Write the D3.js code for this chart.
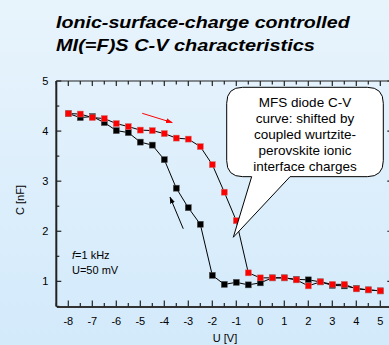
<!DOCTYPE html>
<html><head><meta charset="utf-8">
<script src="https://cdn.jsdelivr.net/npm/d3@7"></script>
<style>html,body{margin:0;padding:0;overflow:hidden}svg{display:block}</style>
</head><body>
<script>
const voltages = [-8,-7.5,-7,-6.5,-6,-5.5,-5,-4.5,-4,-3.5,-3,-2.5,-2,-1.5,-1,-0.5,0,0.5,1,1.5,2,2.5,3,3.5,4,4.5,5];
const blackC = [4.35,4.27,4.29,4.17,4.01,3.97,3.78,3.72,3.43,2.86,2.47,2.14,1.12,0.94,0.98,0.93,0.97,1.07,1.07,1.04,1.03,0.99,0.92,0.91,0.86,0.83,0.81];
const redC   = [4.35,4.34,4.27,4.25,4.15,4.09,4.02,4.01,3.95,3.86,3.84,3.69,3.33,2.78,2.21,1.17,1.07,1.07,1.07,1.03,0.91,0.99,0.94,0.94,0.85,0.83,0.81];
const xTicks = [-8,-7,-6,-5,-4,-3,-2,-1,0,1,2,3,4,5];
const yTicks = [1,2,3,4,5];
const titleLines = ["Ionic-surface-charge controlled","MI(=F)S C-V characteristics"];
const calloutLines = ["MFS diode C-V","curve: shifted by","coupled wurtzite-","perovskite ionic","interface charges"];

const W=389,H=345;
const svg=d3.select("body").append("svg").attr("width",W).attr("height",H);
const defs=svg.append("defs");
const g=defs.append("linearGradient").attr("id","bg").attr("x1",0).attr("y1",0).attr("x2",0).attr("y2",1);
g.append("stop").attr("offset","0%").attr("stop-color","#e8f4fc");
g.append("stop").attr("offset","100%").attr("stop-color","#d3eafb");
svg.append("rect").attr("width",W).attr("height",H).attr("fill","url(#bg)");
["red","black"].forEach(c=>{
  defs.append("marker").attr("id","ah-"+c).attr("viewBox","0 0 10 10").attr("refX",9).attr("refY",5)
   .attr("markerWidth",7).attr("markerHeight",7).attr("orient","auto-start-reverse").attr("markerUnits","userSpaceOnUse")
   .append("path").attr("d","M0,1.5 L10,5 L0,8.5 Z").attr("fill",c==="red"?"#ff0000":"#000");
});

const x=d3.scaleLinear().domain([-8.5,5.5]).range([56.3,392.3]);
const y=d3.scaleLinear().domain([0.5,5]).range([306.4,81]);

const font="Liberation Sans, Arial, sans-serif";
// title (horizontally stretched to match reference)
const titleWidths=[294,259];
titleLines.forEach((t,i)=>{
  const tt=svg.append("text").attr("x",0).attr("y",0).text(t)
   .attr("font-family",font).attr("font-weight","bold").attr("font-style","italic")
   .attr("font-size",16).attr("fill","#000");
  const w=tt.node().getComputedTextLength();
  tt.attr("transform",`translate(56,${28+i*23}) scale(${titleWidths[i]/w},1)`);
});

// axes
const minorX=d3.range(-8.5,5.51,0.5), minorY=d3.range(0.5,5.01,0.5);
const ax=svg.append("g");
const isMajor=v=>Math.abs(v-Math.round(v))<1e-6;
// bottom
ax.append("g").attr("transform",`translate(0,${y(0.5)})`).call(d3.axisBottom(x).tickValues(minorX).tickSize(0).tickFormat(""))
  .call(s=>{s.select(".domain").attr("stroke","#333").attr("stroke-width",2);});
minorX.forEach(v=>{ax.append("line").attr("x1",x(v)).attr("x2",x(v)).attr("y1",y(0.5)).attr("y2",y(0.5)-(isMajor(v)?6:3.5)).attr("stroke","#222").attr("stroke-width",1.2);});
// top
ax.append("line").attr("x1",x(-8.5)).attr("x2",x(5.5)).attr("y1",y(5)).attr("y2",y(5)).attr("stroke","#222").attr("stroke-width",1.2);
minorX.forEach(v=>{ax.append("line").attr("x1",x(v)).attr("x2",x(v)).attr("y1",y(5)).attr("y2",y(5)+(isMajor(v)?5:3.5)).attr("stroke","#222").attr("stroke-width",1.2);});
// left
ax.append("line").attr("x1",x(-8.5)).attr("x2",x(-8.5)).attr("y1",y(0.5)).attr("y2",y(5)).attr("stroke","#222").attr("stroke-width",2);
minorY.forEach(v=>{ax.append("line").attr("x1",x(-8.5)).attr("x2",x(-8.5)+(isMajor(v)?5:3)).attr("y1",y(v)).attr("y2",y(v)).attr("stroke","#222").attr("stroke-width",1.2);});
// right
ax.append("line").attr("x1",x(5.5)).attr("x2",x(5.5)).attr("y1",y(0.5)).attr("y2",y(5)).attr("stroke","#222").attr("stroke-width",1.2);
minorY.forEach(v=>{ax.append("line").attr("x1",x(5.5)).attr("x2",x(5.5)-(isMajor(v)?5:3)).attr("y1",y(v)).attr("y2",y(v)).attr("stroke","#222").attr("stroke-width",1.2);});
// labels
xTicks.forEach(v=>{ax.append("text").attr("x",x(v)).attr("y",y(0.5)+18.5).attr("text-anchor","middle").attr("font-family",font).attr("font-size",11).text(v);});
yTicks.forEach(v=>{ax.append("text").attr("x",x(-8.5)-8).attr("y",y(v)+4).attr("text-anchor","end").attr("font-family",font).attr("font-size",11).text(v);});
svg.append("text").attr("x",225).attr("y",341.5).attr("text-anchor","middle").attr("font-family",font).attr("font-size",11).text("U [V]");
svg.append("text").attr("transform","translate(24,200) rotate(-90)").attr("text-anchor","middle").attr("font-family",font).attr("font-size",11).text("C [nF]");

// info
const info=svg.append("text").attr("x",72).attr("y",259).attr("font-family",font).attr("font-size",11);
info.append("tspan").attr("font-style","italic").text("f");
info.append("tspan").text("=1 kHz");
svg.append("text").attr("x",72).attr("y",273.5).attr("font-family",font).attr("font-size",11).text("U=50 mV");

// series
const line=d3.line().x(d=>x(d[0])).y(d=>y(d[1]));
const blk=voltages.map((v,i)=>[v,blackC[i]]), red=voltages.map((v,i)=>[v,redC[i]]);
svg.append("path").attr("d",line(blk)).attr("fill","none").attr("stroke","#000").attr("stroke-width",1);
svg.append("path").attr("d",line(red)).attr("fill","none").attr("stroke","#000").attr("stroke-width",1);
const sq=6;
svg.append("g").selectAll("rect").data(blk).join("rect").attr("x",d=>x(d[0])-sq/2).attr("y",d=>y(d[1])-sq/2)
  .attr("width",sq).attr("height",sq).attr("fill","#000").attr("stroke","#555").attr("stroke-width",0.5);
svg.append("g").selectAll("rect").data(red).join("rect").attr("x",d=>x(d[0])-sq/2).attr("y",d=>y(d[1])-sq/2)
  .attr("width",sq).attr("height",sq).attr("fill","#ff0000").attr("stroke","#c77").attr("stroke-width",0.5);

// arrows
svg.append("line").attr("x1",x(-4.92)).attr("y1",y(4.355)).attr("x2",x(-3.67)).attr("y2",y(4.17))
  .attr("stroke","#ff0000").attr("stroke-width",1).attr("marker-end","url(#ah-red)");
svg.append("line").attr("x1",x(-3.21)).attr("y1",y(2.05)).attr("x2",x(-3.76)).attr("y2",y(2.68))
  .attr("stroke","#000").attr("stroke-width",1).attr("marker-end","url(#ah-black)");

// callout
const L=x(-1.4),R=x(5.125),T=y(4.874),B=y(3.09),r=16;
const b1=x(-0.36),b2=x(1.24),tx=x(-1.125),ty=y(1.88);
const p=`M${L+r},${T} H${R-r} Q${R},${T} ${R},${T+r} V${B-r} Q${R},${B} ${R-r},${B} H${b2} L${tx},${ty} L${b1},${B} H${L+r} Q${L},${B} ${L},${B-r} V${T+r} Q${L},${T} ${L+r},${T} Z`;
svg.append("path").attr("d",p).attr("fill","#fff").attr("stroke","#000").attr("stroke-width",1);
calloutLines.forEach((t,i)=>{
  svg.append("text").attr("x",(L+R)/2).attr("y",106.7+i*16).attr("text-anchor","middle").attr("font-family",font).attr("font-size",13.5).text(t);
});
</script>
</body></html>
